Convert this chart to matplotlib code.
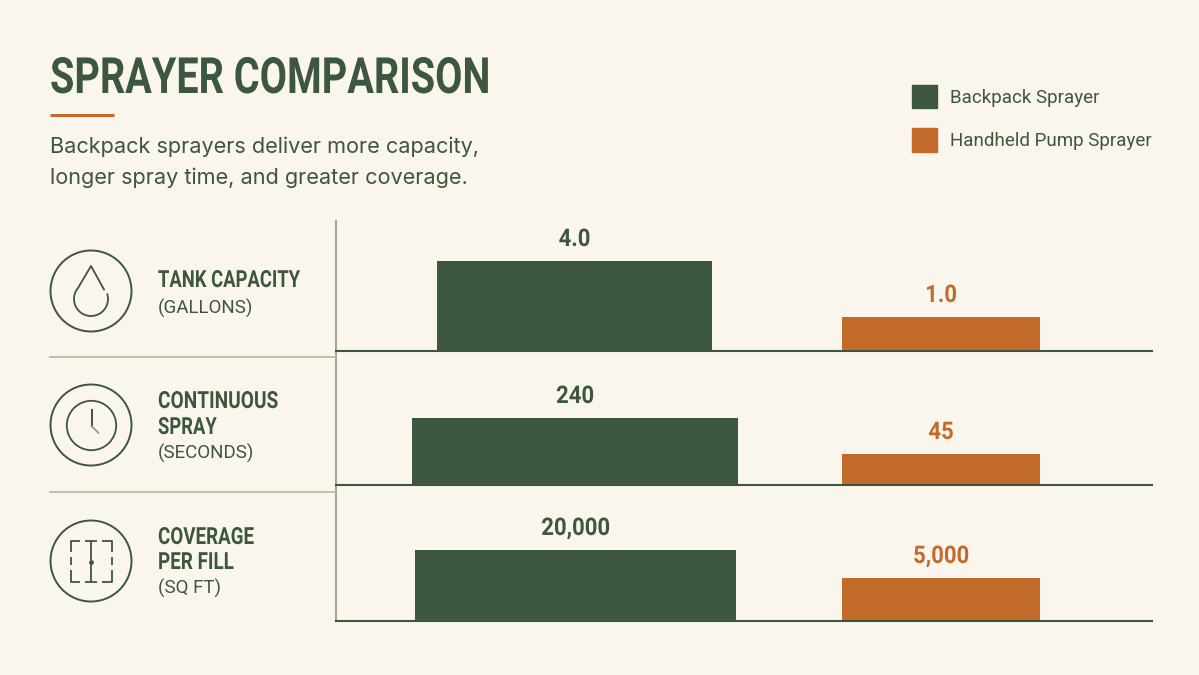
import matplotlib
matplotlib.use('Agg')
import matplotlib.pyplot as plt
from matplotlib.patches import Circle, Patch
from matplotlib.patheffects import AbstractPathEffect
from matplotlib.transforms import Affine2D
import numpy as np

BG = '#FAF6EE'
GREEN = '#3C5640'
ORANGE = '#C26A29'
RULE = '#B9BBA6'
AXIS_GREY = '#8F9583'

series_names = ['Backpack Sprayer', 'Handheld Pump Sprayer']
tank_values = [4.0, 1.0]
spray_values = [240, 45]
coverage_values = [20000, 5000]
tank_labels = ['4.0', '1.0']
spray_labels = ['240', '45']
coverage_labels = ['20,000', '5,000']

W, H = 1199, 675
fig = plt.figure(figsize=(W / 100, H / 100), dpi=100, facecolor=BG)

# overlay in pixel coordinates for the text, rules and icons
bg = fig.add_axes([0, 0, 1, 1])
bg.set_xlim(0, W)
bg.set_ylim(H, 0)
bg.axis('off')

HEAD = ['Roboto', 'DejaVu Sans']
BODY = ['Roboto', 'DejaVu Sans']
SUB = ['Inter', 'DejaVu Sans']


class Squeeze(AbstractPathEffect):
    # no condensed face installed, so narrow the glyph outlines horizontally
    def __init__(self, sx, centered=False):
        super().__init__()
        self.sx = sx
        self.centered = centered

    def draw_path(self, renderer, gc, tpath, affine, rgbFace=None):
        cx = 0
        if self.centered:
            ext = tpath.get_extents()
            cx = (ext.x0 + ext.x1) / 2
        squeeze = Affine2D().translate(-cx, 0).scale(self.sx, 1).translate(cx, 0)
        renderer.draw_path(gc, tpath, squeeze + affine, rgbFace)


def bar_panel(values, labels, top_px, base_px, heights_px, widths_px, shift_px=0):
    # log axis per row, limits picked so the pair of bars gets its row height
    ax = fig.add_axes([336 / W, 1 - base_px / H, (1152 - 336) / W, (base_px - top_px) / H])
    ax.patch.set_alpha(0)
    step = 366.5
    ax.set_xlim((336 - 574.5) / step, (1152 - 574.5) / step)
    slope = (np.log10(values[0]) - np.log10(values[1])) / (heights_px[0] - heights_px[1])
    low = 10 ** (np.log10(values[1]) - slope * heights_px[1])
    high = 10 ** (np.log10(values[1]) + slope * ((base_px - top_px) - heights_px[1]))
    ax.set_yscale('log')
    ax.set_ylim(low, high)
    colors = [GREEN, ORANGE]
    for i in range(2):
        x = i + (shift_px / step if i == 0 else 0)
        ax.bar(x, values[i] - low, bottom=low, width=widths_px[i] / step, color=colors[i], linewidth=0)
        t = ax.annotate(labels[i], (x, values[i]), xytext=(0, 10), textcoords='offset pixels',
                        ha='center', va='bottom', color=colors[i], family=HEAD, fontweight='bold', fontsize=17.5)
        t.set_path_effects([Squeeze(0.91, centered=True)])
    ax.set_xticks([])
    ax.set_yticks([])
    ax.minorticks_off()
    for side in ['top', 'right', 'left']:
        ax.spines[side].set_visible(False)
    ax.spines['bottom'].set_color(GREEN)
    ax.spines['bottom'].set_linewidth(1.5)


bar_panel(tank_values, tank_labels, 222, 351, [90, 34], [275, 198])
bar_panel(spray_values, spray_labels, 358, 485, [67, 31], [326, 198], 0.5)
bar_panel(coverage_values, coverage_labels, 492, 621, [71, 43], [321, 198], 1)

# header
title = bg.text(50, 93, 'SPRAYER COMPARISON', family=HEAD, fontweight='bold', fontsize=36, color=GREEN, va='baseline')
title.set_path_effects([Squeeze(0.792)])
bg.plot([50, 114], [114.5, 114.5], color=ORANGE, lw=2.2, solid_capstyle='butt')
bg.text(50, 153, 'Backpack sprayers deliver more capacity,', family=SUB, fontsize=15.6, color=GREEN, va='baseline')
bg.text(50, 184.5, 'longer spray time, and greater coverage.', family=SUB, fontsize=15.6, color=GREEN, va='baseline')

# row labels
heading_rows = [(287, 'TANK CAPACITY', 0.78), (408, 'CONTINUOUS', 0.81), (434, 'SPRAY', 0.78),
                (544, 'COVERAGE', 0.795), (569, 'PER FILL', 0.80)]
unit_rows = [(314, '(GALLONS)'), (459, '(SECONDS)'), (594, '(SQ FT)')]
for y, s, sx in heading_rows:
    t = bg.text(158, y, s, family=HEAD, fontweight='bold', fontsize=17, color=GREEN, va='baseline')
    t.set_path_effects([Squeeze(sx)])
for y, s in unit_rows:
    bg.text(158, y, s, family=BODY, fontsize=13.5, color=GREEN, va='baseline')

# dividers
bg.plot([336, 336], [221, 621], color=AXIS_GREY, lw=1.2)
bg.plot([50, 336], [357, 357], color=RULE, lw=1.3)
bg.plot([50, 336], [491.5, 491.5], color=RULE, lw=1.3)

# icon rings
for cy in [291, 425, 561]:
    bg.add_patch(Circle((91, cy), 40.5, fill=False, ec=GREEN, lw=1.4))

# drop icon: open outline, tip then round belly
t_arc = np.radians(np.linspace(220, -16, 60))
drop_x = np.concatenate([[104, 91], 91 + 17 * np.cos(t_arc)])
drop_y = np.concatenate([[289.5, 266], 299 + 17 * np.sin(t_arc)])
bg.plot(drop_x, drop_y, color=GREEN, lw=1.3)

# clock icon
bg.add_patch(Circle((91.5, 425.5), 24.7, fill=False, ec=GREEN, lw=1.3))
bg.plot([91.5, 91.5], [410, 426], color=GREEN, lw=1.4)
bg.plot([91.5, 98.5], [426, 433], color=AXIS_GREY, lw=1.2)

# coverage icon: dashed brackets around a centre post
for pts in [[(80, 540.5), (70.5, 540.5), (70.5, 552)], [(102, 540.5), (111.5, 540.5), (111.5, 552)],
            [(70.5, 570), (70.5, 581.5), (80, 581.5)], [(111.5, 570), (111.5, 581.5), (102, 581.5)],
            [(70.5, 557), (70.5, 565)], [(111.5, 557), (111.5, 565)],
            [(91, 540.5), (91, 560)], [(91, 563), (91, 581.5)],
            [(85, 540.5), (97, 540.5)], [(85, 581.5), (97, 581.5)]]:
    xs, ys = zip(*pts)
    bg.plot(xs, ys, color=GREEN, lw=1.3, solid_capstyle='butt')
bg.plot([91], [561.5], 'o', color=GREEN, ms=2.5)

# legend
handles = [Patch(color=GREEN, label=series_names[0]), Patch(color=ORANGE, label=series_names[1])]
leg = bg.legend(handles=handles, loc='upper left', bbox_to_anchor=(912 / W, 1 - 85 / H), bbox_transform=fig.transFigure,
                frameon=False, borderpad=0, borderaxespad=0, handlelength=1.33, handleheight=1.55,
                handletextpad=0.7, labelspacing=1.05, prop={'family': BODY, 'size': 13.5})
for t in leg.get_texts():
    t.set_color(GREEN)

fig.savefig('out.png', dpi=100, facecolor=BG)
